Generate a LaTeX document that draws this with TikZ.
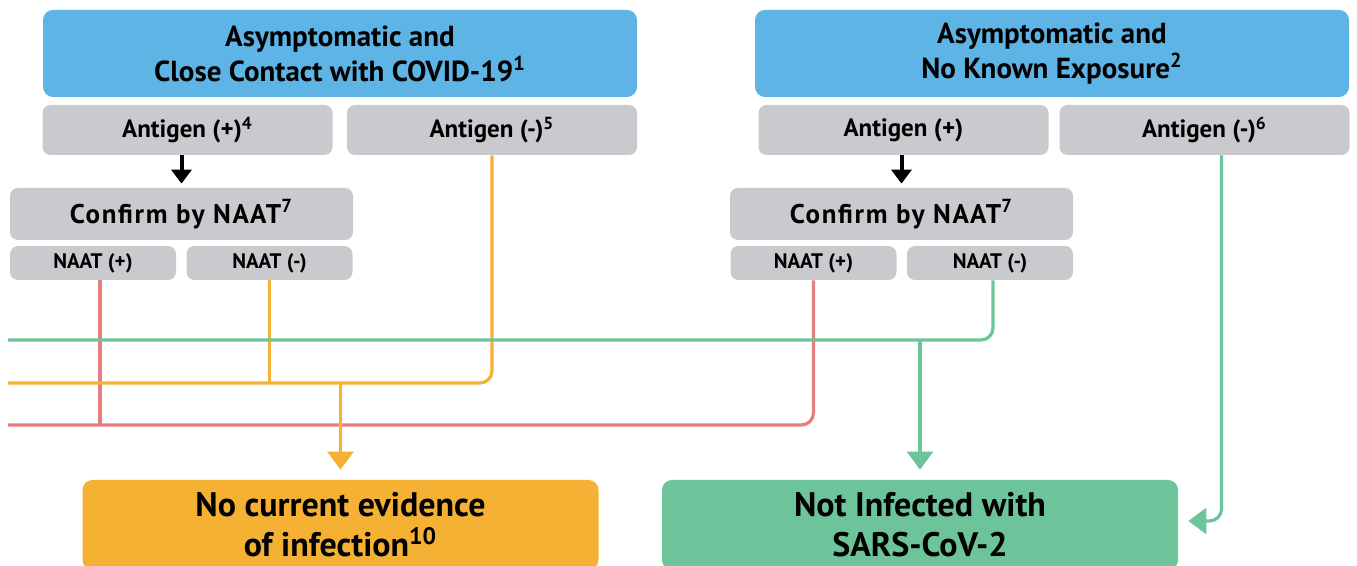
\documentclass[tikz,border=0pt]{standalone}
\usepackage{fontspec}
\setmainfont{PT Sans}
\usepackage{xcolor}
\usetikzlibrary{positioning,arrows.meta}
\definecolor{headblue}{HTML}{5EB4E5}
\definecolor{testgray}{HTML}{C9CACD}
\definecolor{amber}{HTML}{F5B134}
\definecolor{mint}{HTML}{6EC49A}
\definecolor{rose}{HTML}{E87D7F}

\begin{document}
\begin{tikzpicture}[
    x=0.5pt, y=-0.5pt,
    font=\bfseries,
    head/.style={fill=headblue, rounded corners=5pt, align=center,
                 minimum width=297pt, minimum height=43.5pt,
                 font=\fontsize{14.5}{17.5}\selectfont\bfseries},
    test/.style={fill=testgray, rounded corners=4pt, align=center,
                 minimum width=145pt, minimum height=25pt,
                 font=\fontsize{12.5}{14}\selectfont\bfseries},
    conf/.style={test, minimum width=171.5pt, minimum height=26pt,
                 font=\fontsize{13.5}{15}\selectfont\bfseries\addfontfeature{LetterSpace=6}},
    naat/.style={test, minimum width=83pt, minimum height=17pt,
                 font=\fontsize{10.5}{12}\selectfont\bfseries},
    result/.style={rounded corners=5pt, align=center,
                   minimum width=258pt, minimum height=45pt,
                   font=\fontsize{17}{20}\selectfont\bfseries},
    down/.style={-{Triangle[width=10pt,length=7pt]}, line width=2pt, shorten >=2pt},
    flow/.style={line width=1.6pt, rounded corners=6pt},
    flowarrow/.style={flow, -{Triangle[width=13pt,length=9pt]}, shorten >=5pt},
  ]
    \useasboundingbox (0,0) rectangle (1357,566);
    \clip (0,0) rectangle (1357,566);

    % left column
    \node[head] (headL) at (340,53.5) {Asymptomatic and\\Close Contact with COVID-19\textsuperscript{1}};
    \node[test] (agpL) at (187.5,130) {Antigen (+)\textsuperscript{4}};
    \node[test] (agnL) at (492,130) {Antigen (-)\textsuperscript{5}};
    \node[conf] (confL) at (181.5,214) {Confirm by NAAT\textsuperscript{7}};
    \node[naat] (naatpL) at (93,263) {NAAT (+)};
    \node[naat] (naatnL) at (269.5,263) {NAAT (-)};

    % right column
    \node[head] (headR) at (1052,53.5) {Asymptomatic and\\No Known Exposure\textsuperscript{2}};
    \node[test] (agpR) at (903.5,130) {Antigen (+)};
    \node[test] (agnR) at (1204.5,130) {Antigen (-)\textsuperscript{6}};
    \node[conf] (confR) at (901.5,214) {Confirm by NAAT\textsuperscript{7}};
    \node[naat] (naatpR) at (813.5,263) {NAAT (+)};
    \node[naat] (naatnR) at (990,263) {NAAT (-)};

    % outcomes
    \node[result, fill=amber] (noev) at (340.5,525) {No current evidence\\of infection\textsuperscript{10}};
    \node[result, fill=mint] (noinf) at (920,525) {Not Infected with\\SARS-CoV-2};

    % free ends at the left edge
    \coordinate (redL) at (8,425);
    \coordinate (ambL) at (8,383);
    \coordinate (grnL) at (8,340);

    \draw[down] (agpL.south -| confL.north) -- (confL.north);
    \draw[down] (agpR.south -| confR.north) -- (confR.north);

    \draw[flow, rose] (naatpR.south) |- (redL);
    \draw[flow, rose] (naatpL.south) ++(7,0) -- ++(0,145);

    \draw[flow, amber] (agnL.south) |- (ambL);
    \draw[flow, amber] (naatnL.south) -- (naatnL.south |- ambL);
    \draw[flowarrow, amber] (noev.north |- ambL) -- (noev.north);

    \draw[flow, mint] (naatnR.south) ++(3,0) |- (grnL);
    \draw[flowarrow, mint] (noinf.north |- grnL) -- (noinf.north);
    \draw[flowarrow, mint] (agnR.south) ++(17,0) |- ([yshift=2pt]noinf.east);
  \end{tikzpicture}
\end{document}
